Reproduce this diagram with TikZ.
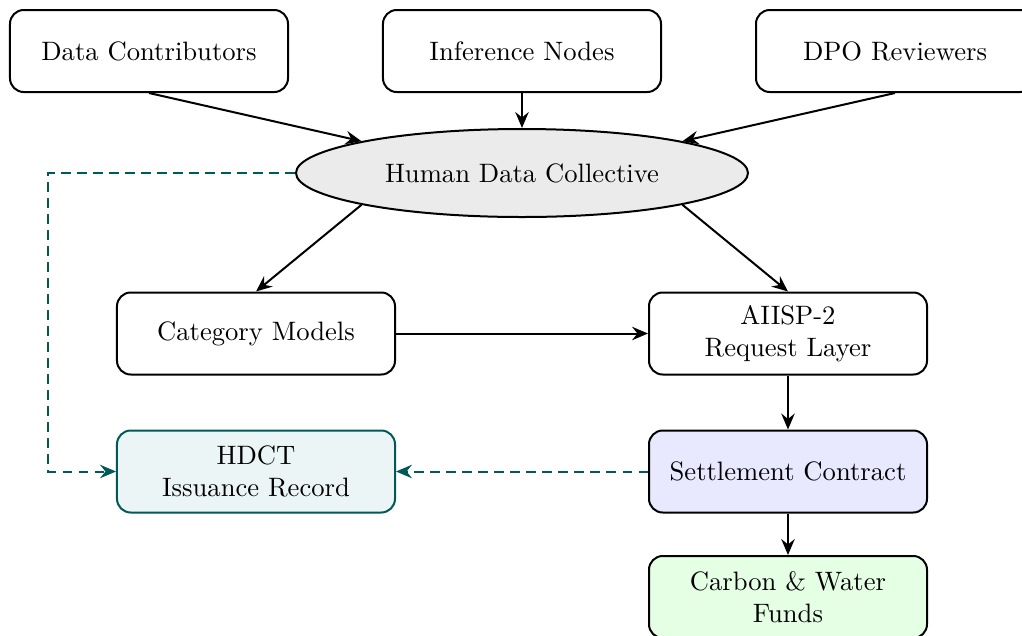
\documentclass[tikz,border=0pt]{standalone}
\usetikzlibrary{arrows.meta,shapes.geometric}
\definecolor{tealline}{RGB}{0,88,88}
\definecolor{tealfill}{RGB}{236,245,245}
\definecolor{lavfill}{RGB}{232,232,255}
\definecolor{greenfill}{RGB}{229,255,229}
\definecolor{ellfill}{RGB}{235,235,235}
\begin{document}
\begin{tikzpicture}[x=0.4pt,y=-0.4pt,
  font=\fontsize{10.65}{12.8}\selectfont,
  box/.style={draw,line width=0.8pt,rounded corners=5.5pt,minimum width=111.2pt,minimum height=32.8pt,align=center,inner sep=2pt},
  arr/.style={-{Stealth[length=6.4pt,width=5.4pt,inset=2.2pt]},line width=0.8pt},
  darr/.style={-{Stealth[length=6.4pt,width=5.4pt,inset=2.2pt]},line width=0.8pt,tealline,dash pattern=on 3.8pt off 2.6pt}
]
\useasboundingbox (0,0) rectangle (1022,635);
\node[box] (dc) at (149,51) {Data Contributors};
\node[box] (inf) at (522,51) {Inference Nodes};
\node[box] (dpo) at (895,51) {DPO Reviewers};
\node[draw,ellipse,line width=0.8pt,fill=ellfill,minimum width=180.8pt,minimum height=35.2pt,inner sep=0pt] (hdc) at (522,173) {Human Data Collective};
\node[box] (cat) at (256,333.5) {Category Models};
\node[box] (aiisp) at (788,333.5) {AIISP-2\\Request Layer};
\node[box,draw=tealline,fill=tealfill] (hdct) at (256,471.5) {HDCT\\Issuance Record};
\node[box,fill=lavfill] (set) at (788,471.5) {Settlement Contract};
\node[box,fill=greenfill] (cwf) at (788,597) {Carbon \& Water\\Funds};
\coordinate (dl) at (48,173);
\draw[arr] (dc.south) -- (hdc.north west);
\draw[arr] (inf) -- (hdc);
\draw[arr] (dpo.south) -- (hdc.north east);
\draw[arr] (hdc.south west) -- (cat.north);
\draw[arr] (hdc.south east) -- (aiisp.north);
\draw[arr] (cat) -- (aiisp);
\draw[arr] (aiisp) -- (set);
\draw[arr] (set) -- (cwf);
\draw[darr] (set) -- (hdct);
\draw[darr] (hdc.west) -- (dl) |- (hdct.west);
\end{tikzpicture}
\end{document}
